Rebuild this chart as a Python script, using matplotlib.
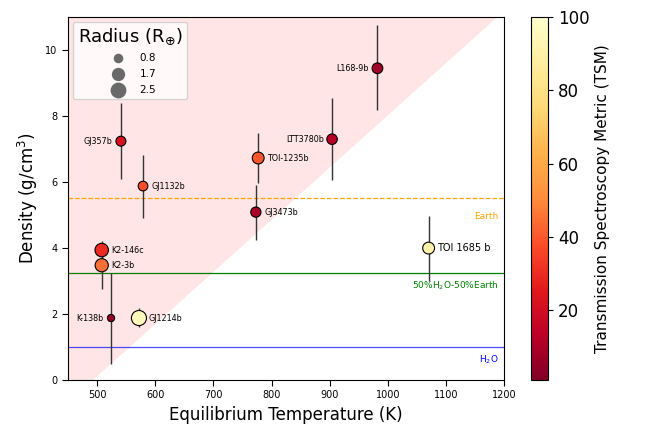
import matplotlib
matplotlib.use("Agg")
import matplotlib.pyplot as plt
import numpy as np

names = ["L168-9b", "LTT3780b", "TOI-1235b", "GJ3473b", "GJ357b", "GJ1132b",
         "K2-146c", "K2-3b", "K-138b", "GJ1214b", "TOI 1685 b"]
teq = [982, 904, 777, 773, 541, 579, 508, 508, 524, 572, 1070]
dens = [9.45, 7.30, 6.73, 5.09, 7.24, 5.88, 3.94, 3.48, 1.88, 1.88, 4.00]
dens_err_lo = [1.27, 1.24, 0.76, 0.85, 1.14, 0.98, 0.30, 0.72, 1.40, 0.28, 1.00]
dens_err_hi = [1.30, 1.25, 0.75, 0.81, 1.16, 0.94, 0.26, 0.30, 1.36, 0.30, 0.97]
radius = [1.39, 1.33, 1.70, 1.26, 1.20, 1.13, 2.19, 2.10, 0.64, 2.74, 1.70]
tsm = [8, 12, 40, 10, 22, 38, 30, 45, 6, 95, 90]
label_side = ["left", "left", "right", "right", "left", "right",
              "right", "right", "left", "right", "right"]

legend_radii = [0.8, 1.7, 2.5]
ref_lines = [5.51, 3.25, 1.0]
ref_labels = ["Earth", "50%H$_2$O-50%Earth", "H$_2$O"]
ref_colors = ["orange", "green", "blue"]
ref_styles = ["--", "-", "-"]
boundary_x = [493, 1188]
boundary_y = [0, 11]

fig = plt.figure(figsize=(6.6, 4.28), dpi=100)
ax = fig.add_axes([0.103, 0.112, 0.661, 0.848])
cax = fig.add_axes([0.805, 0.112, 0.026, 0.848])

# shaded region
ax.fill([450, boundary_x[0], boundary_x[1], 450],
        [0, boundary_y[0], boundary_y[1], 11], color="red", alpha=0.1, lw=0, zorder=0)

for yv, lab, c, ls in zip(ref_lines, ref_labels, ref_colors, ref_styles):
    ax.axhline(yv, color=c, ls=ls, lw=0.9, alpha=0.7 if c == "blue" else 1.0, zorder=1)

ax.text(1190, 4.97, "Earth", color="orange", fontsize=6.5, ha="right", va="center")
ax.text(1190, 2.85, "50%H$_2$O-50%Earth", color="green", fontsize=6.5, ha="right", va="center")
ax.text(1190, 0.62, "H$_2$O", color="blue", fontsize=6.5, ha="right", va="center")

ax.errorbar(teq, dens, yerr=[dens_err_lo, dens_err_hi], fmt="none",
            ecolor="#333333", elinewidth=1.0, zorder=2)
sizes = [43 * r for r in radius]
sc = ax.scatter(teq, dens, s=sizes, c=tsm, cmap="YlOrRd_r", vmin=1, vmax=100,
                edgecolors="black", linewidths=0.8, zorder=3)

for n, x, y, side, r in zip(names, teq, dens, label_side, radius):
    off = 3.5 + 2.2 * np.sqrt(r)
    fs = 7 if n == "TOI 1685 b" else 5.8
    if side == "left":
        ax.annotate(n, (x, y), xytext=(-off, 0), textcoords="offset points",
                    ha="right", va="center", fontsize=fs)
    else:
        ax.annotate(n, (x, y), xytext=(off, 0), textcoords="offset points",
                    ha="left", va="center", fontsize=fs)

ax.set_xlim(450, 1200)
ax.set_ylim(0, 11)
ax.set_xticks([500, 600, 700, 800, 900, 1000, 1100, 1200])
ax.set_yticks([0, 2, 4, 6, 8, 10])
ax.tick_params(labelsize=7, length=4)
ax.set_xlabel("Equilibrium Temperature (K)", fontsize=12)
ax.set_ylabel("Density (g/cm$^3$)", fontsize=12)

handles = [ax.scatter([], [], s=43 * r, color="dimgray") for r in legend_radii]
leg = ax.legend(handles, [str(r) for r in legend_radii], title="Radius (R$_{\\oplus}$)",
                loc="upper left", fontsize=7.5, title_fontsize=13, labelspacing=0.55,
                handlelength=2.6, handletextpad=0.8, borderpad=0.45)

cb = fig.colorbar(sc, cax=cax)
cb.set_ticks([20, 40, 60, 80, 100])
cb.ax.tick_params(labelsize=12)
cb.set_label("Transmission Spectroscopy Metric (TSM)", fontsize=11)

fig.savefig("out.png", dpi=100)
